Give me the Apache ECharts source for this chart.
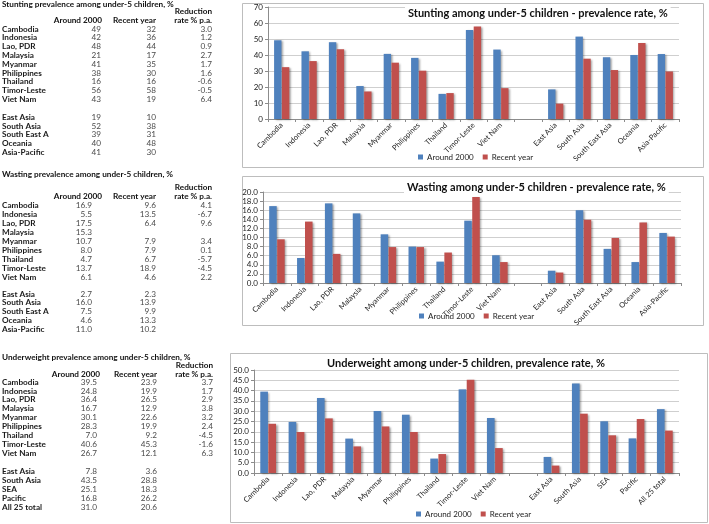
<!DOCTYPE html>
<html><head><meta charset="utf-8">
<script src="https://cdn.jsdelivr.net/npm/echarts@6/dist/echarts.min.js"></script>
<style>html,body{margin:0;padding:0;background:#fff}#c{width:709px;height:524px}</style>
</head><body><div id="c"></div>
<script>
// ---------- DATA ----------
const seriesNames = ['Around 2000', 'Recent year'];
const countries = ['Cambodia','Indonesia','Lao, PDR','Malaysia','Myanmar','Philippines','Thailand','Timor-Leste','Viet Nam'];

const stuntRegions = ['East Asia','South Asia','South East Asia','Oceania','Asia-Pacific'];
const stuntRegionsTable = ['East Asia','South Asia','South East A','Oceania','Asia-Pacific'];
const stuntAround = [49.2, 42.3, 48.0, 20.6, 40.7, 38.2, 15.7, 55.7, 43.4, 18.5, 51.5, 38.6, 40.0, 40.6];
const stuntRecent = [32.4, 36.2, 43.6, 17.2, 35.2, 30.2, 16.2, 57.8, 19.3, 9.6, 37.7, 30.6, 47.5, 29.7];
const stuntRate = [3.0, 1.2, 0.9, 2.7, 1.7, 1.6, -0.6, -0.5, 6.4];
const stuntTicks = [0, 70, 10];

const wasteRegions = ['East Asia','South Asia','South East Asia','Oceania','Asia-Pacific'];
const wasteRegionsTable = ['East Asia','South Asia','South East A','Oceania','Asia-Pacific'];
const wasteAround = [16.9, 5.5, 17.5, 15.3, 10.7, 8.0, 4.7, 13.7, 6.1, 2.7, 16.0, 7.5, 4.6, 11.0];
const wasteRecent = [9.6, 13.5, 6.4, null, 7.9, 7.9, 6.7, 18.9, 4.6, 2.3, 13.9, 9.9, 13.3, 10.2];
const wasteRate = [4.1, -6.7, 9.6, null, 3.4, 0.1, -5.7, -4.5, 2.2];
const wasteTicks = [0, 20, 2];

const underRegions = ['East Asia','South Asia','SEA','Pacific','All 25 total'];
const underRegionsTable = ['East Asia','South Asia','SEA','Pacific','All 25 total'];
const underAround = [39.5, 24.8, 36.4, 16.7, 30.1, 28.3, 7.0, 40.6, 26.7, 7.8, 43.5, 25.1, 16.8, 31.0];
const underRecent = [23.9, 19.9, 26.5, 12.9, 22.6, 19.9, 9.2, 45.3, 12.1, 3.6, 28.8, 18.3, 26.2, 20.6];
const underRate = [3.7, 1.7, 2.9, 3.8, 3.2, 2.4, -4.5, -1.6, 6.3];
const underTicks = [0, 50, 5];

const chartTitles = [
  'Stunting among under-5 children - prevalence rate, %',
  'Wasting among under-5 children - prevalence rate, %',
  'Underweight among under-5 children, prevalence rate, %'
];
const tableTitles = [
  'Stunting prevalence among under-5 children, %',
  'Wasting prevalence among under-5 children, %',
  'Underweight prevalence among under-5 children, %'
];
const tableHeaders = ['Around 2000', 'Recent year', 'rate % p.a.'];
const tableHeaderTop = 'Reduction';

// ---------- LAYOUT / STYLE ----------
const FONT = 'Lato, "Open Sans", sans-serif';
const BLUE = '#4F81BD', RED = '#C0504D';

function withGap(arr) { return arr.slice(0, 9).concat([null], arr.slice(9)); }
function cats(regions) { return countries.concat([''], regions); }

const charts = [
  { cats: cats(stuntRegions), a: withGap(stuntAround), r: withGap(stuntRecent), ticks: stuntTicks, dec: 0,
    grid: {left: 268, top: 7, width: 411, height: 112}, box: [242, 3, 461, 164],
    title: {left: 405, top: 7}, legend: {left: 418, top: 153} },
  { cats: cats(wasteRegions), a: withGap(wasteAround), r: withGap(wasteRecent), ticks: wasteTicks, dec: 1,
    grid: {left: 263, top: 192, width: 418, height: 91}, box: [242, 176, 461, 149],
    title: {left: 404, top: 181}, legend: {left: 419, top: 312} },
  { cats: cats(underRegions), a: withGap(underAround), r: withGap(underRecent), ticks: underTicks, dec: 1,
    grid: {left: 254, top: 370, width: 425, height: 103}, box: [230, 353, 477, 169],
    title: {left: 324, top: 357}, legend: {left: 416, top: 510} }
];

const tables = [
  { title: tableTitles[0], rows: countries.concat(stuntRegionsTable), a: stuntAround, r: stuntRecent, rate: stuntRate, dec: 0,
    titleY: 4, redY: 11, headY: 20, rowY: 29, rowStep: 8.8, regY: 117, regStep: 8.9, colA: 101, colAH: 102, colR: 156, colRate: 212 },
  { title: tableTitles[1], rows: countries.concat(wasteRegionsTable), a: wasteAround, r: wasteRecent, rate: wasteRate, dec: 1,
    titleY: 174, redY: 187, headY: 196, rowY: 205, rowStep: 9.0, regY: 294, regStep: 8.75, colA: 92, colAH: 102, colR: 156, colRate: 212 },
  { title: tableTitles[2], rows: countries.concat(underRegionsTable), a: underAround, r: underRecent, rate: underRate, dec: 1,
    titleY: 357, redY: 365, headY: 374, rowY: 382, rowStep: 8.9, regY: 471, regStep: 9.0, colA: 97, colAH: 100, colR: 157, colRate: 213 }
];

function txt(x, y, text, align, bold, color) {
  return { type: 'text', x: x, y: y, silent: true,
    style: { text: text, fill: color || '#222', font: (bold ? 'bold ' : '') + '8.2px ' + FONT,
      align: align, textAlign: align, verticalAlign: 'middle', textVerticalAlign: 'middle' } };
}

const graphic = [];
charts.forEach(c => {
  graphic.push({ type: 'rect', z: -10, silent: true,
    shape: { x: c.box[0] + 0.5, y: c.box[1] + 0.5, width: c.box[2], height: c.box[3] },
    style: { fill: '#fff', stroke: '#bdbdbd', lineWidth: 1 } });
});
tables.forEach(t => {
  graphic.push(txt(2, t.titleY, t.title, 'left', true, '#111'));
  graphic.push(txt(t.colRate, t.redY, tableHeaderTop, 'right', true, '#111'));
  graphic.push(txt(t.colAH, t.headY, tableHeaders[0], 'right', true, '#111'));
  graphic.push(txt(t.colR, t.headY, tableHeaders[1], 'right', true, '#111'));
  graphic.push(txt(t.colRate, t.headY, tableHeaders[2], 'right', true, '#111'));
  t.rows.forEach((name, i) => {
    const y = i < 9 ? t.rowY + i * t.rowStep : t.regY + (i - 9) * t.regStep;
    graphic.push(txt(2, y, name, 'left', true, '#1a1a1a'));
    if (t.a[i] != null) graphic.push(txt(t.colA, y, t.a[i].toFixed(t.dec), 'right', false, '#4a4a4a'));
    if (t.r[i] != null) graphic.push(txt(t.colR, y, t.r[i].toFixed(t.dec), 'right', false, '#4a4a4a'));
    if (i < 9 && t.rate[i] != null) graphic.push(txt(t.colRate, y, t.rate[i].toFixed(1), 'right', false, '#4a4a4a'));
  });
});

const option = {
  animation: false,
  backgroundColor: '#fff',
  textStyle: { fontFamily: FONT },
  title: charts.map((c, i) => ({
    text: chartTitles[i], left: c.title.left, top: c.title.top, padding: [1, 3],
    backgroundColor: '#fff', z: 10,
    textStyle: { fontSize: 11, fontWeight: 'bold', color: '#111', fontFamily: FONT }
  })),
  legend: charts.map(c => ({
    data: seriesNames, left: c.legend.left, top: c.legend.top, icon: 'rect',
    itemWidth: 5, itemHeight: 5, itemGap: 9, padding: 0, selectedMode: false,
    textStyle: { fontSize: 8, color: '#222', fontFamily: FONT, padding: [0, 0, 0, -1] }
  })),
  grid: charts.map(c => Object.assign({ containLabel: false }, c.grid)),
  xAxis: charts.map((c, i) => ({
    type: 'category', gridIndex: i, data: c.cats,
    axisLine: { lineStyle: { color: '#8c8c8c' } },
    axisTick: { show: true, length: 3, lineStyle: { color: '#8c8c8c' } },
    axisLabel: { interval: 0, rotate: 45, fontSize: 7.5, color: '#222', margin: 5, fontFamily: FONT },
    splitLine: { show: false }
  })),
  yAxis: charts.map((c, i) => ({
    type: 'value', gridIndex: i, min: c.ticks[0], max: c.ticks[1], interval: c.ticks[2],
    axisLine: { show: true, lineStyle: { color: '#8c8c8c' } },
    axisTick: { show: true, length: 3, lineStyle: { color: '#8c8c8c' } },
    axisLabel: { fontSize: 8, color: '#222', margin: 5, fontFamily: FONT,
      formatter: v => v.toFixed(c.dec) },
    splitLine: { lineStyle: { color: '#cfcfcf', width: 1 } }
  })),
  series: charts.flatMap((c, i) => [
    { name: seriesNames[0], type: 'bar', xAxisIndex: i, yAxisIndex: i, data: c.a,
      barWidth: '27%', barGap: '6%',
      itemStyle: { color: BLUE, shadowColor: 'rgba(0,0,0,0.35)', shadowOffsetX: 1.5, shadowOffsetY: 1, shadowBlur: 2 } },
    { name: seriesNames[1], type: 'bar', xAxisIndex: i, yAxisIndex: i, data: c.r,
      barWidth: '27%', barGap: '6%',
      itemStyle: { color: RED, shadowColor: 'rgba(0,0,0,0.35)', shadowOffsetX: 1.5, shadowOffsetY: 1, shadowBlur: 2 } }
  ]),
  graphic: graphic
};

const chart = echarts.init(document.getElementById('c'), null, { renderer: 'canvas' });
chart.setOption(option);
</script></body></html>
